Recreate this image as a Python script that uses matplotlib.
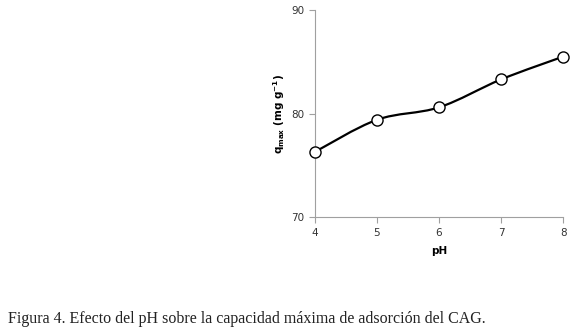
import matplotlib.pyplot as plt
import numpy as np
from matplotlib.path import Path
from matplotlib.patches import PathPatch

# datos
ph = [4, 5, 6, 7, 8]
qmax = [76.3, 79.4, 80.6, 83.3, 85.5]

fig = plt.figure(figsize=(5.8, 3.34), dpi=100)
ax = fig.add_axes([0.543, 0.350, 0.428, 0.620])

# curva suavizada tipo Excel (Catmull-Rom -> Bezier)
x = np.array(ph, dtype=float)
y = np.array(qmax, dtype=float)
verts = [(x[0], y[0])]
codes = [Path.MOVETO]
t = 1 / 6
for i in range(len(x) - 1):
    x0, y0 = (x[i - 1], y[i - 1]) if i > 0 else (x[i], y[i])
    x3, y3 = (x[i + 2], y[i + 2]) if i + 2 < len(x) else (x[i + 1], y[i + 1])
    c1 = (x[i] + (x[i + 1] - x0) * t, y[i] + (y[i + 1] - y0) * t)
    c2 = (x[i + 1] - (x3 - x[i]) * t, y[i + 1] - (y3 - y[i]) * t)
    verts += [c1, c2, (x[i + 1], y[i + 1])]
    codes += [Path.CURVE4] * 3
ax.add_patch(PathPatch(Path(verts, codes), fill=False, lw=1.6, color='black', zorder=2))
ax.plot(ph, qmax, 'o', ms=8, mfc='white', mec='black', mew=1.0, zorder=3, clip_on=False)

ax.set_xlim(4, 8)
ax.set_ylim(70, 90)
ax.set_xticks(ph)
ax.set_yticks([70, 80, 90])
for s in ['top', 'right']:
    ax.spines[s].set_visible(False)
for s in ['left', 'bottom']:
    ax.spines[s].set_color('#a0a0a0')
ax.tick_params(colors='#a0a0a0', labelcolor='#333333', labelsize=7.5, length=4, direction='out')
ax.set_xlabel('pH', fontsize=7.5, fontweight='bold', labelpad=6)
ax.set_ylabel(r'$\mathbf{q_{max}}$ (mg g$^{\mathbf{-1}}$)', fontsize=7.5, fontweight='bold', labelpad=3)

fig.text(0.013, 0.033, 'Figura 4. Efecto del pH sobre la capacidad máxima de adsorción del CAG.',
         fontsize=11.5, family='Liberation Serif', color='#222222')

fig.savefig('out.png', dpi=100)
